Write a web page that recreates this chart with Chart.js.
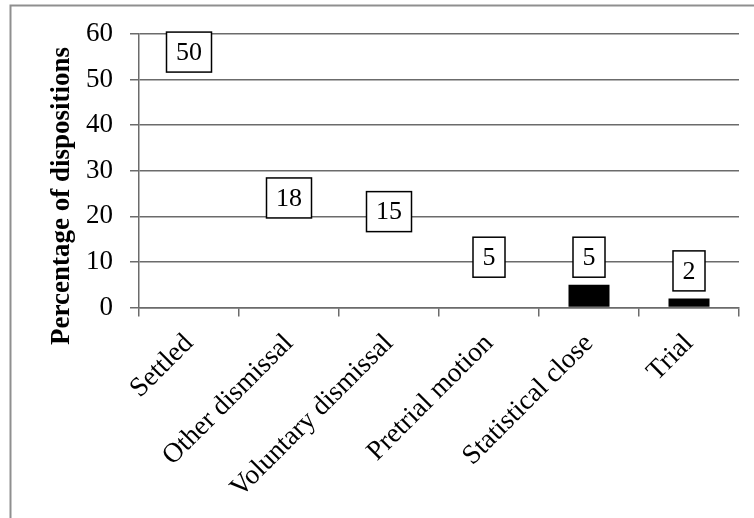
<!DOCTYPE html>
<html>
<head>
<meta charset="utf-8">
<script src="https://cdn.jsdelivr.net/npm/chart.js@4.4.1/dist/chart.umd.min.js"></script>
<style>
  html, body { margin: 0; padding: 0; background: #ffffff; }
  #wrap { width: 754px; height: 518px; position: relative; }
</style>
</head>
<body>
<div id="wrap"><canvas id="chart" width="754" height="518"></canvas></div>
<script>
// Case dispositions, share of all dispositions (%)
const categories = ['Settled', 'Other dismissal', 'Voluntary dismissal', 'Pretrial motion', 'Statistical close', 'Trial'];
const percentages = [50, 18, 15, 5, 5, 2];
const barFills = ['rgba(0,0,0,0)', 'rgba(0,0,0,0)', 'rgba(0,0,0,0)', 'rgba(0,0,0,0)', '#000000', '#000000'];
const yMin = 0;
const yMax = 60;
const yStep = 10;
const yAxisTitle = 'Percentage of dispositions';

const SERIF = '"Liberation Serif", "Times New Roman", serif';
const GRID = '#6b6b6b';

// Thin grey frame around the chart (top and left edges fall inside the canvas)
const framePlugin = {
  id: 'frame',
  beforeDraw(chart) {
    const ctx = chart.ctx;
    ctx.save();
    ctx.strokeStyle = '#8f8f8f';
    ctx.lineWidth = 2;
    ctx.beginPath();
    ctx.moveTo(10.5, 760);
    ctx.lineTo(10.5, 5.5);
    ctx.lineTo(900, 5.5);
    ctx.stroke();
    ctx.restore();
  }
};

// Boxed value labels above each bar
const valueBoxPlugin = {
  id: 'valueBoxes',
  afterDatasetsDraw(chart) {
    const ctx = chart.ctx;
    const meta = chart.getDatasetMeta(0);
    const values = chart.data.datasets[0].data;
    ctx.save();
    ctx.font = '26px ' + SERIF;
    ctx.textAlign = 'center';
    ctx.textBaseline = 'middle';
    meta.data.forEach((bar, i) => {
      const text = String(values[i]);
      const w = ctx.measureText(text).width + 19;
      const h = 40;
      const bottom = bar.y - 7.5;
      const left = bar.x - w / 2;
      ctx.fillStyle = '#ffffff';
      ctx.fillRect(left, bottom - h, w, h);
      ctx.strokeStyle = '#000000';
      ctx.lineWidth = 1.5;
      ctx.strokeRect(left, bottom - h, w, h);
      ctx.fillStyle = '#000000';
      ctx.fillText(text, bar.x, bottom - h / 2 + 1);
    });
    ctx.restore();
  }
};

// Vertical axis title
const yTitlePlugin = {
  id: 'yTitle',
  afterDraw(chart) {
    const ctx = chart.ctx;
    ctx.save();
    ctx.translate(62, 196);
    ctx.rotate(-Math.PI / 2);
    ctx.font = 'bold 27px ' + SERIF;
    ctx.fillStyle = '#000000';
    ctx.textAlign = 'center';
    ctx.textBaseline = 'middle';
    ctx.fillText(yAxisTitle, 0, 0);
    ctx.restore();
  }
};

new Chart(document.getElementById('chart'), {
  type: 'bar',
  data: {
    labels: categories,
    datasets: [{
      data: percentages,
      backgroundColor: barFills,
      borderWidth: 0,
      categoryPercentage: 1,
      barPercentage: 0.41
    }]
  },
  options: {
    responsive: false,
    devicePixelRatio: 1,
    animation: false,
    layout: { padding: { left: 0, right: 15, top: 34, bottom: 0 } },
    plugins: {
      legend: { display: false },
      tooltip: { enabled: false }
    },
    scales: {
      x: {
        afterFit(scale) { scale.height = 518 - 307.5; },
        grid: { display: true, drawOnChartArea: false, drawTicks: true, tickLength: 9, color: GRID, lineWidth: 1.5, offset: true },
        border: { display: true, color: GRID, width: 1.5 },
        ticks: {
          color: '#000000',
          font: { family: SERIF, size: 27.5 },
          minRotation: 45,
          maxRotation: 45,
          padding: 11,
          autoSkip: false
        }
      },
      y: {
        min: yMin,
        max: yMax,
        afterFit(scale) { scale.width = 139; },
        grid: { color: GRID, lineWidth: 1.5, tickLength: 9, drawTicks: true },
        border: { display: true, color: GRID, width: 1.5 },
        ticks: {
          stepSize: yStep,
          color: '#000000',
          font: { family: SERIF, size: 27 },
          padding: 17
        }
      }
    }
  },
  plugins: [framePlugin, valueBoxPlugin, yTitlePlugin]
});
</script>
</body>
</html>
